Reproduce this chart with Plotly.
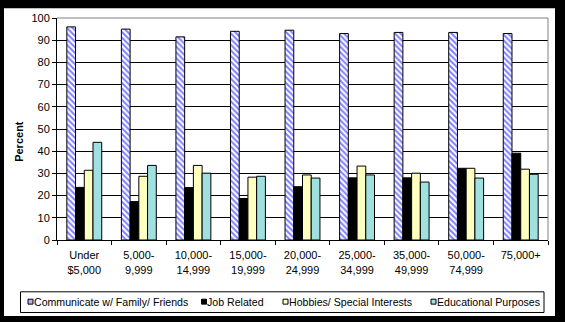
import plotly.graph_objects as go

# ---- data ----
categories = ["Under<br>$5,000", "5,000-<br>9,999", "10,000-<br>14,999", "15,000-<br>19,999",
              "20,000-<br>24,999", "25,000-<br>34,999", "35,000-<br>49,999", "50,000-<br>74,999",
              "75,000+"]
communicate = [96, 95, 91.5, 94, 94.5, 93, 93.5, 93.5, 93]
job_related = [23.7, 17.3, 23.6, 18.7, 24, 28, 28, 32.3, 39.1]
hobbies = [31.4, 28.7, 33.6, 28.3, 29.3, 33.3, 30.1, 32.3, 31.9]
educational = [44, 33.6, 30.1, 28.7, 27.9, 29.3, 26.1, 27.9, 29.6]
series_names = ["Communicate w/ Family/ Friends", "Job Related",
                "Hobbies/ Special Interests", "Educational Purposes"]
y_ticks = list(range(0, 101, 10))

FONT = "Liberation Sans, Arial, sans-serif"
W, H = 565, 322
L, R, T, B = 57, 17, 15, 82
PW, PH = W - L - R, H - T - B


def px_x(px):
    return (px - L) / PW


def px_y(py):
    return (H - B - py) / PH


fig = go.Figure()
fig.add_bar(x=categories, y=communicate, name=series_names[0],
            marker=dict(color="white", line=dict(color="black", width=1),
                        pattern=dict(shape="\\", fgcolor="#7f7fff", bgcolor="white",
                                     size=4, solidity=0.5, fillmode="replace")))
fig.add_bar(x=categories, y=job_related, name=series_names[1],
            marker=dict(color="black", line=dict(color="black", width=1)))
fig.add_bar(x=categories, y=hobbies, name=series_names[2],
            marker=dict(color="#ffffc0", line=dict(color="black", width=1)))
fig.add_bar(x=categories, y=educational, name=series_names[3],
            marker=dict(color="#a0e0e0", line=dict(color="black", width=1)))

shapes = []
# white chart area on black page
shapes.append(dict(type="rect", xref="paper", yref="paper", layer="below",
                   x0=px_x(4), x1=px_x(555), y0=px_y(317), y1=px_y(5),
                   fillcolor="white", line=dict(width=0)))
# grey plot-area border (top and right)
shapes.append(dict(type="line", xref="paper", yref="paper", layer="above",
                   x0=0, x1=1, y0=1, y1=1, line=dict(color="#808080", width=1)))
shapes.append(dict(type="line", xref="paper", yref="paper", layer="above",
                   x0=1, x1=1, y0=0, y1=1, line=dict(color="#808080", width=1)))
# legend box
shapes.append(dict(type="rect", xref="paper", yref="paper", layer="above",
                   x0=px_x(20.5), x1=px_x(544), y0=px_y(313.5), y1=px_y(292.5),
                   fillcolor="white", line=dict(color="black", width=1)))

legend_colors = ["#b0b0ff", "black", "#ffffc0", "#a0e0e0"]
sym_x = [28, 201.5, 283, 431]
text_x = [34.3, 206.7, 289, 436.7]
annotations = []
for name, col, sx, tx in zip(series_names, legend_colors, sym_x, text_x):
    shapes.append(dict(type="rect", xref="paper", yref="paper", layer="above",
                       x0=px_x(sx), x1=px_x(sx + 5), y0=px_y(305), y1=px_y(300),
                       fillcolor=col, line=dict(color="black", width=1)))
    annotations.append(dict(text=name, xref="paper", yref="paper", x=px_x(tx - 2),
                            y=px_y(302.5), xanchor="left", yanchor="middle",
                            showarrow=False, font=dict(family=FONT, size=10.6, color="black")))

annotations.append(dict(text="<b>Percent</b>", xref="paper", yref="paper",
                        x=px_x(19.5), y=px_y(140), textangle=-90, showarrow=False,
                        xanchor="center", yanchor="middle",
                        font=dict(family=FONT, size=11, color="black")))

fig.update_layout(
    width=W, height=H, autosize=False,
    margin=dict(l=L, r=R, t=T, b=B, pad=0),
    paper_bgcolor="black", plot_bgcolor="white",
    font=dict(family=FONT, size=11, color="black"),
    barmode="group", bargap=0.36, bargroupgap=0,
    showlegend=False,
    shapes=shapes, annotations=annotations,
)
fig.update_xaxes(type="category", showline=True, linecolor="black", linewidth=1,
                 ticks="outside", tickson="boundaries", ticklen=4, tickcolor="black",
                 showgrid=False, tickfont=dict(family=FONT, size=11, color="black"),
                 ticklabelstandoff=5)
fig.update_yaxes(range=[0, 100], tickvals=y_ticks, showline=True, linecolor="black",
                 linewidth=1, ticks="outside", ticklen=4, tickcolor="black",
                 showgrid=True, gridcolor="black", gridwidth=1, zeroline=False,
                 tickfont=dict(family=FONT, size=11, color="black"))

fig.write_html("out.html")
